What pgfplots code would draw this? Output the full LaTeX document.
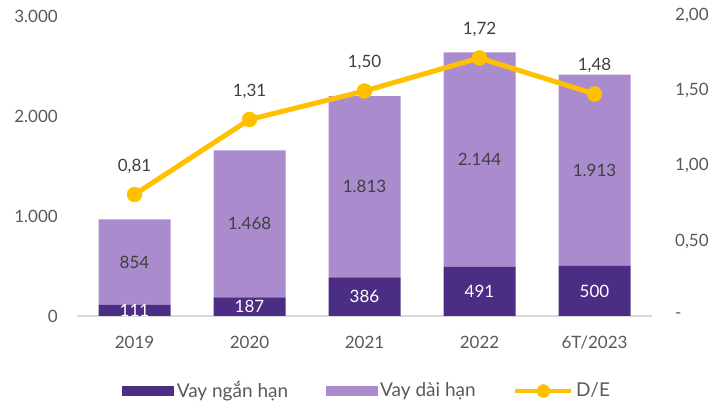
\documentclass[border=0pt]{standalone}
\usepackage{fontspec}
\setmainfont{Lato}
\usepackage{pgfplots}
\pgfplotsset{compat=1.18}
\definecolor{shortloan}{HTML}{4B2E83}
\definecolor{longloan}{HTML}{A98BCE}
\definecolor{dey}{HTML}{FFC000}
\definecolor{textgray}{HTML}{595959}
\definecolor{labelgray}{HTML}{404040}
\definecolor{axisgray}{HTML}{D9D9D9}
\pgfplotsset{
  common/.style={
    at={(77pt,87pt)}, anchor=south west,
    scale only axis, width=575pt, height=300pt,
    xmin=-0.5, xmax=4.5,
    major tick length=0pt,
    tick style={draw=none},
    clip=false,
  },
  barlegend/.style={legend image code/.code={\fill[##1] (0pt,-5pt) rectangle (52pt,5pt);}},
  linelegend/.style={legend image code/.code={%
    \draw[dey, line width=4.5pt] (0pt,0pt) -- (56pt,0pt);
    \fill[dey] (28pt,0pt) circle (6.5pt);}},
}
\begin{document}
\fontsize{17}{20}\selectfont
\begin{tikzpicture}
\useasboundingbox (0pt,0pt) rectangle (727pt,403pt);
% bars (left axis)
\begin{axis}[common,
  ybar stacked, bar width=72pt,
  ymin=0, ymax=3000,
  separate axis lines,
  axis x line*=bottom, axis y line*=left,
  x axis line style={draw=axisgray, line width=1.2pt, -},
  y axis line style={draw=none},
  xtick={0,1,2,3,4},
  xticklabels={2019,2020,2021,2022,6T/2023},
  xticklabel style={text=textgray, inner sep=0pt, anchor=north, yshift=-20pt},
  ytick={0,1000,2000,3000},
  yticklabels={0,1.000,2.000,3.000},
  yticklabel style={text=textgray, inner sep=0pt, anchor=east, xshift=-19pt},
  legend style={at={(0.505,-0.25)}, anchor=center, draw=none, fill=none,
    legend columns=3, text=textgray, font=\fontsize{19}{21}\selectfont,
    /tikz/every even column/.append style={column sep=35pt},
    nodes={inner sep=2.5pt}},
]
\addplot[fill=shortloan, draw=none, barlegend]
  coordinates {(0,111) (1,187) (2,386) (3,491) (4,500)};
\addlegendentry{Vay ngắn hạn}
\addplot[fill=longloan, draw=none, barlegend]
  coordinates {(0,854) (1,1468) (2,1813) (3,2144) (4,1913)};
\addlegendentry{Vay dài hạn}
\addlegendimage{linelegend}
\addlegendentry{D/E}
\end{axis}
% value labels inside bars
\begin{axis}[common, hide axis, ymin=0, ymax=3000]
\addplot[draw=none, mark=none, nodes near coords, point meta=explicit symbolic,
  every node near coord/.append style={anchor=center, text=white, inner sep=0pt}]
  coordinates {(0,55.5)[111] (1,93.5)[187] (2,193)[386] (3,245.5)[491] (4,250)[500]};
\addplot[draw=none, mark=none, nodes near coords, point meta=explicit symbolic,
  every node near coord/.append style={anchor=center, text=labelgray, inner sep=0pt}]
  coordinates {(0,538)[854] (1,921)[1.468] (2,1292.5)[1.813] (3,1563)[2.144] (4,1456.5)[1.913]};
\end{axis}
% D/E line (right axis)
\begin{axis}[common,
  ymin=0, ymax=2,
  separate axis lines,
  axis x line=none, axis y line*=right,
  y axis line style={draw=none},
  xtick=\empty,
  ytick={0,0.5,1,1.5,2},
  yticklabels={-,{0,50},{1,00},{1,50},{2,00}},
  yticklabel style={text=textgray, inner sep=0pt, anchor=west, xshift=23pt},
]
\addplot[dey, line width=5pt, mark=*, mark size=7.5pt,
  mark options={line width=0.4pt, fill=dey},
  nodes near coords, point meta=explicit symbolic,
  every node near coord/.append style={anchor=center, text=labelgray, inner sep=0pt, yshift=28pt}]
  coordinates {(0,0.81)[{0,81}] (1,1.31)[{1,31}] (2,1.50)[{1,50}] (3,1.72)[{1,72}] (4,1.48)[{1,48}]};
\end{axis}
\end{tikzpicture}
\end{document}
